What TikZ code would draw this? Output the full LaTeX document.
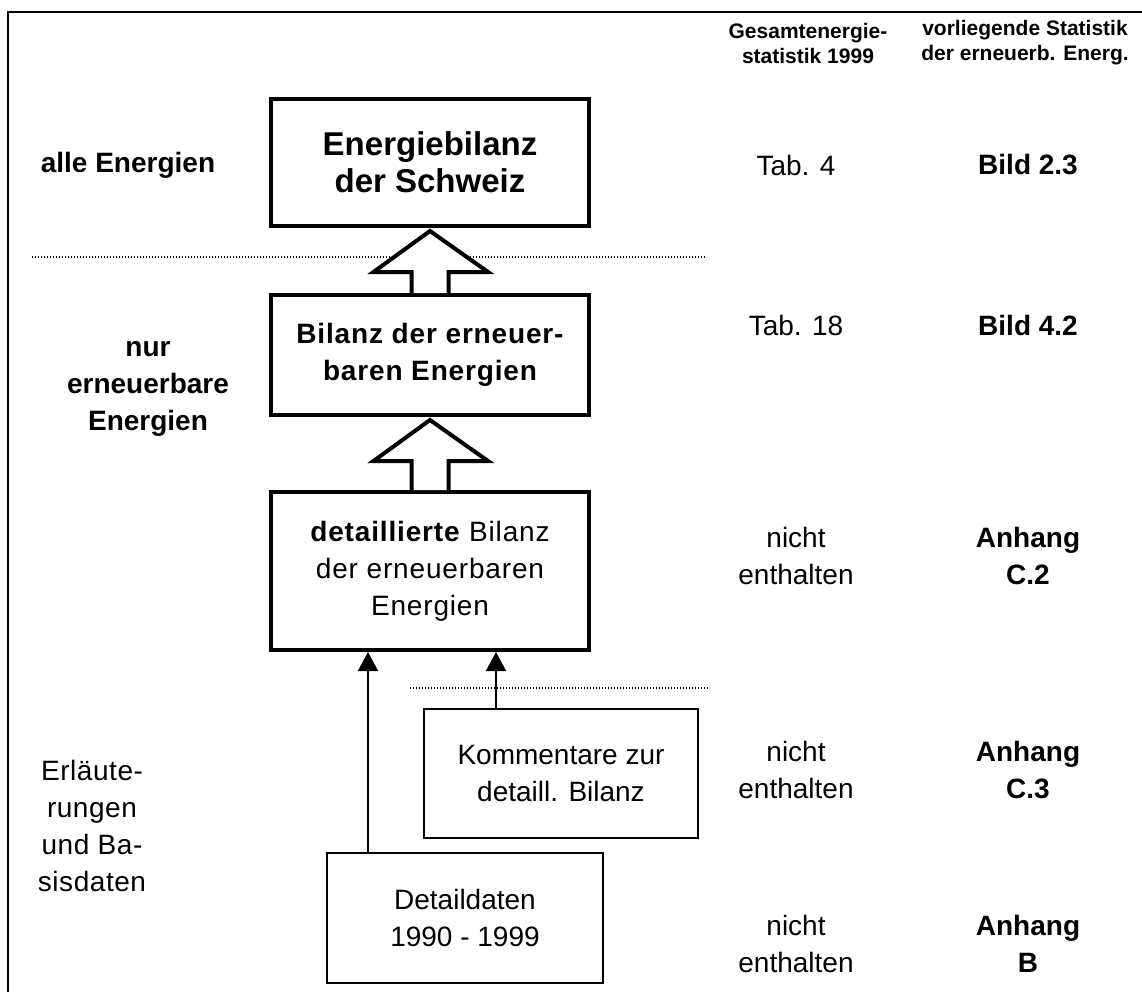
\documentclass[tikz,border=0pt]{standalone}
\usepackage{fontspec}
\setmainfont{Liberation Sans}
\newfontfamily\widefont[LetterSpace=3]{Liberation Sans}
\newfontfamily\semiwidefont[LetterSpace=2]{Liberation Sans}
\usetikzlibrary{arrows.meta,calc}
\begin{document}
\begin{tikzpicture}[x=1pt,y=-1pt,
  bigbox/.style={draw,line width=4pt,minimum width=318pt,align=center,inner sep=0pt},
  smallbox/.style={draw,line width=1.8pt,align=center,inner sep=0pt},
  txt/.style={font=\fontsize{28}{37}\selectfont,align=center,inner sep=0pt},
  btxt/.style={font=\fontsize{28}{37}\selectfont\bfseries,align=center,inner sep=0pt},
  hdr/.style={font=\fontsize{21}{25}\selectfont\bfseries,align=center,inner sep=0pt},
  blockarrow/.style={draw,line width=4pt,fill=white,line join=miter},
  thinarrow/.style={line width=1.8pt,-{Triangle[length=19pt,width=20pt]}},
  sep/.style={line width=1.2pt,dash pattern=on 1.4pt off 1.6pt}]
\useasboundingbox (0,0) rectangle (1142,992);
% frame
\draw[line width=2.5pt] (8,992) -- (8,12) -- (1142,12);
% main boxes
\node[bigbox,minimum height=127pt,font=\fontsize{33}{37}\selectfont\bfseries] (b1) at (430,162.5) {Energiebilanz\\der Schweiz};
\node[bigbox,minimum height=120pt,font=\widefont\fontsize{28}{37}\selectfont\bfseries] (b2) at (430,355) {Bilanz der erneuer-\\baren Energien};
\node[bigbox,minimum height=158pt,font=\widefont\fontsize{28}{37}\selectfont] (b3) at (430,571) {\textbf{detaillierte} Bilanz\\der erneuerbaren\\Energien};
\node[smallbox,minimum width=274pt,minimum height=129pt,font=\fontsize{28}{37}\selectfont] (km) at (561,773.5) {Kommentare zur\\detaill. Bilanz};
\node[smallbox,minimum width=276pt,minimum height=130pt,font=\fontsize{28}{37}\selectfont] (dd) at (465,918) {Detaildaten\\1990 - 1999};
% separators
\coordinate (s1a) at (32,257); \coordinate (s1b) at (705,257);
\coordinate (s2a) at (410,688); \coordinate (s2b) at (710,688);
\draw[sep] (s1a) -- (s1b);
\draw[sep] (s2a) -- (s2b);
% block arrows
\coordinate (t1) at ($(b1.south)+(0,3)$);
\coordinate (t2) at ($(b2.south)+(0,3)$);
\draw[blockarrow] ($(b2.north)+(-18.5,0)$) -- ($(t1)+(-18.5,41)$) -- ($(t1)+(-56.5,41)$) -- (t1) -- ($(t1)+(58,41)$) -- ($(t1)+(18.5,41)$) -- ($(b2.north)+(18.5,0)$);
\draw[blockarrow] ($(b3.north)+(-18.5,0)$) -- ($(t2)+(-18.5,41)$) -- ($(t2)+(-56.5,41)$) -- (t2) -- ($(t2)+(58,41)$) -- ($(t2)+(18.5,41)$) -- ($(b3.north)+(18.5,0)$);
% thin arrows
\coordinate (x1) at (368,0);
\coordinate (x2) at (496,0);
\draw[thinarrow] (x1 |- dd.north) -- (x1 |- b3.south);
\draw[thinarrow] (x2 |- km.north) -- (x2 |- b3.south);
% left labels
\node[btxt] (l1) at (128,165) {alle Energien};
\node[btxt] (l2) at (148,389) {nur\\erneuerbare\\Energien};
\node[txt,font=\semiwidefont\fontsize{28}{37}\selectfont] (l3) at (92,826) {Erläute-\\rungen\\und Ba-\\sisdaten};
% headers
\node[hdr] (h1) at (808,43) {Gesamtenergie-\\statistik 1999};
\node[hdr] (h2) at (1025,43) {vorliegende Statistik\\der erneuerb. Energ.};
% column 1
\node[txt] (c11) at (796,165) {Tab. 4};
\node[txt] (c12) at (796,325) {Tab. 18};
\node[txt] (c13) at (796,556) {nicht\\enthalten};
\node[txt] (c14) at (796,770) {nicht\\enthalten};
\node[txt] (c15) at (796,944) {nicht\\enthalten};
% column 2
\node[btxt] (c21) at (1028,165) {Bild 2.3};
\node[btxt] (c22) at (1028,325) {Bild 4.2};
\node[btxt] (c23) at (1028,556) {Anhang\\C.2};
\node[btxt] (c24) at (1028,770) {Anhang\\C.3};
\node[btxt] (c25) at (1028,944) {Anhang\\B};
\end{tikzpicture}
\end{document}
